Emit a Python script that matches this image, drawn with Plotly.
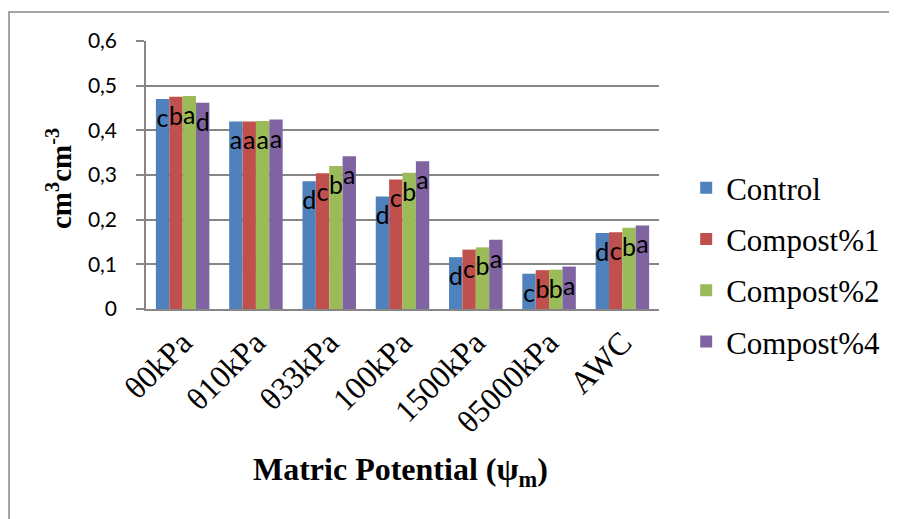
import plotly.graph_objects as go

categories = ["θ0kPa", "θ10kPa", "θ33kPa", "100kPa", "1500kPa", "θ5000kPa", "AWC"]
series_names = ["Control", "Compost%1", "Compost%2", "Compost%4"]
control = [0.470, 0.420, 0.286, 0.252, 0.116, 0.079, 0.170]
compost1 = [0.475, 0.420, 0.304, 0.290, 0.133, 0.087, 0.172]
compost2 = [0.477, 0.421, 0.320, 0.305, 0.138, 0.088, 0.182]
compost4 = [0.462, 0.424, 0.342, 0.331, 0.155, 0.095, 0.187]
letters_control = ["c", "a", "d", "d", "d", "c", "d"]
letters_c1 = ["b", "a", "c", "c", "c", "b", "c"]
letters_c2 = ["a", "a", "b", "b", "b", "b", "b"]
letters_c4 = ["d", "a", "a", "a", "a", "a", "a"]
y_ticks = [0, 0.1, 0.2, 0.3, 0.4, 0.5, 0.6]

colors = ["#4F81BD", "#C0504D", "#9BBB59", "#8064A2"]
values = [control, compost1, compost2, compost4]
letters = [letters_control, letters_c1, letters_c2, letters_c4]

fig = go.Figure()
for name, vals, labs, col in zip(series_names, values, letters, colors):
    fig.add_trace(go.Bar(
        x=categories, y=vals, name=name, legendgroup=name,
        marker=dict(color=col, line=dict(width=0)),
        text=labs, textposition="inside", insidetextanchor="end",
        constraintext="none", textangle=0,
        insidetextfont=dict(family="Lato", size=25, color="black"),
        cliponaxis=False,
    ))

grid_col = "#868686"
fig.update_layout(
    width=897, height=519,
    margin=dict(l=138, r=246, t=33, b=217.5, autoexpand=False),
    paper_bgcolor="white", plot_bgcolor="white",
    barmode="group", bargap=0.27, bargroupgap=0,
    separators=",.",
    showlegend=True,
    legend=dict(
        x=1.053, xanchor="left", y=0.164, yanchor="middle",
        font=dict(family="Liberation Serif", size=31, color="black"),
        tracegroupgap=8, bgcolor="rgba(0,0,0,0)",
    ),
    xaxis=dict(
        tickangle=-45, automargin=False,
        tickfont=dict(family="Liberation Serif", size=32, color="black"),
        showline=True, linecolor=grid_col, linewidth=2,
        showgrid=False, ticks="",
    ),
    yaxis=dict(
        range=[0, 0.6], tickvals=y_ticks, automargin=False,
        tickfont=dict(family="Lato", size=21, color="black"),
        showgrid=True, gridcolor=grid_col, gridwidth=2,
        showline=True, linecolor=grid_col, linewidth=1.5,
        ticks="outside", ticklen=8, tickcolor=grid_col, tickwidth=1.5,
        ticklabelstandoff=15, zeroline=False,
    ),
    annotations=[
        dict(text="<b>cm<sup>3</sup>cm<sup>-3</sup></b>", xref="paper", yref="paper",
             x=-0.17, y=0.488, xanchor="center", yanchor="middle", textangle=-90,
             showarrow=False, font=dict(family="Liberation Serif", size=29, color="black")),
        dict(text="<b>Matric Potential (ψ<sub>m</sub>)</b>", xref="paper", yref="paper",
             x=0.497, y=-0.608, xanchor="center", yanchor="middle",
             showarrow=False, font=dict(family="Liberation Serif", size=32, color="black")),
    ],
    shapes=[
        dict(type="path", xref="paper", yref="paper",
             path="M -0.267,-0.85 L -0.267,1.108 L 1.5,1.108",
             line=dict(color=grid_col, width=1.5)),
    ],
)

fig.write_html("out.html")
